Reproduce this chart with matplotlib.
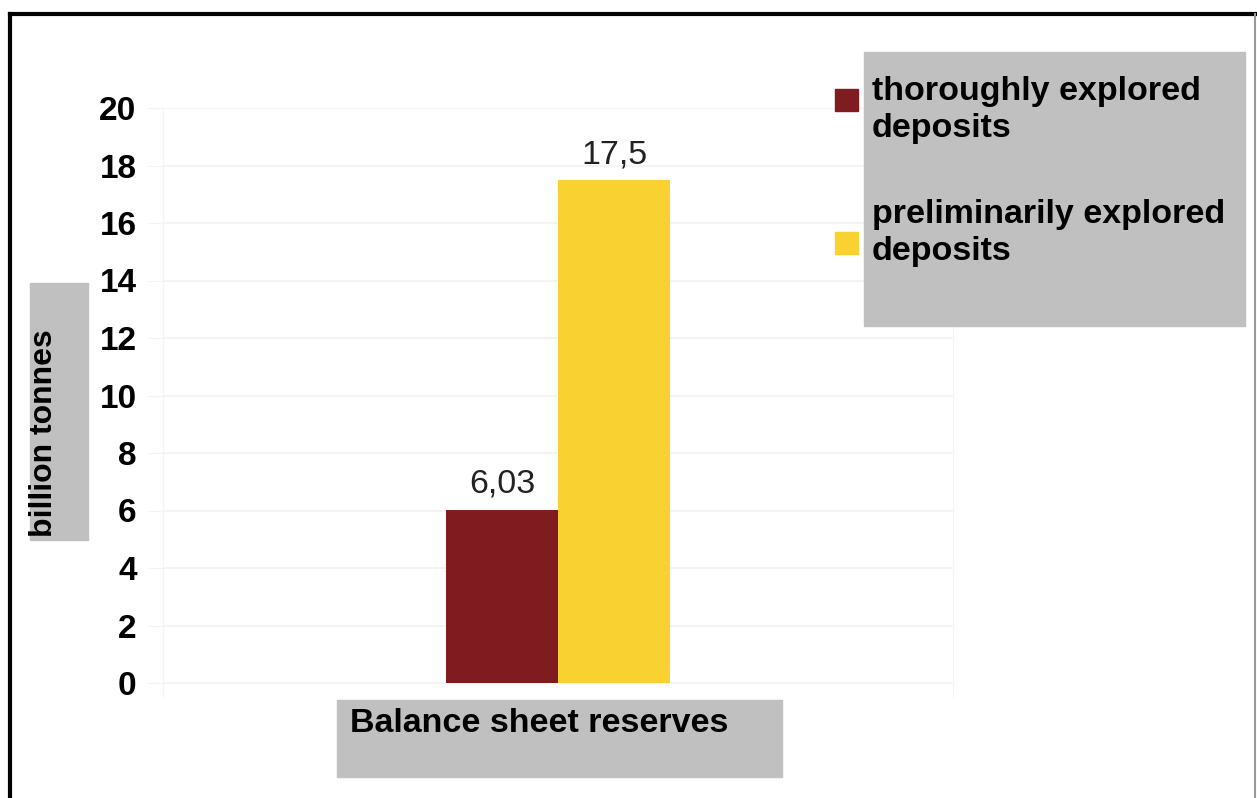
import matplotlib
matplotlib.use("Agg")
import matplotlib.pyplot as plt
from matplotlib.patches import Rectangle
from matplotlib.lines import Line2D

plt.rcParams['font.family'] = ['Liberation Sans', 'DejaVu Sans']

# Данные
category = "Balance sheet reserves"
y_label = "billion tonnes"
series_names = ["thoroughly explored\ndeposits", "preliminarily explored\ndeposits"]
series_values = [6.03, 17.5]
value_labels = ["6,03", "17,5"]
series_colors = ["#7e1c1f", "#f9d131"]
y_ticks = [0, 2, 4, 6, 8, 10, 12, 14, 16, 18, 20]

W, H = 1257, 798
fig = plt.figure(figsize=(W / 100, H / 100), dpi=100)

# область построения: 0 -> y=683 px, 20 -> y=108 px, ниже нуля ещё полделения
y_min = -0.5
px_per_unit = (683 - 108) / 20
bottom_px = 683 + (-y_min) * px_per_unit
ax = fig.add_axes([163 / W, 1 - bottom_px / H, 790 / W, (bottom_px - 108) / H])

bar_w = 0.284
offsets = [-bar_w / 2, bar_w / 2]
for off, val, lab, col in zip(offsets, series_values, value_labels, series_colors):
    ax.bar(off, val, width=bar_w, color=col, zorder=3)
    ax.annotate(lab, (off, val), xytext=(0, 7), textcoords="offset points",
                ha="center", va="bottom", fontsize=24.5, color="#222222")

ax.set_xlim(-1, 1)
ax.set_ylim(y_min, 20)
ax.set_yticks(y_ticks)
ax.set_yticklabels([str(t) for t in y_ticks], fontsize=24, fontweight="bold")
ax.set_xticks([])
ax.yaxis.grid(True, color="#f2f2f2", linewidth=1.2, zorder=0)
ax.tick_params(axis="y", length=11, color="#f2f2f2", pad=8)
for s in ["top", "bottom"]:
    ax.spines[s].set_visible(False)
for s in ["left", "right"]:
    ax.spines[s].set_color("#f4f4f4")
ax.set_facecolor("none")

# Подпись оси Y в сером прямоугольнике
fig.patches.append(Rectangle((30 / W, 1 - 540 / H), 58 / W, 257 / H,
                             transform=fig.transFigure, color="#c0c0c0", zorder=0))
fig.text(44 / W, 1 - 537 / H, y_label, rotation=90, ha="center", va="bottom",
         fontsize=23, fontweight="bold")

# Подпись оси X
fig.patches.append(Rectangle((337 / W, 1 - 777 / H), 445 / W, 77 / H,
                             transform=fig.transFigure, color="#c0c0c0", zorder=0))
fig.text(350 / W, 1 - 723 / H, category, ha="left", va="center",
         fontsize=24.5, fontweight="bold")

# Легенда
fig.patches.append(Rectangle((864 / W, 1 - 326 / H), 381 / W, 274 / H,
                             transform=fig.transFigure, color="#c0c0c0", zorder=0))
legend_y = [110, 233]
marker_y = [100, 243]
for name, col, ty, my in zip(series_names, series_colors, legend_y, marker_y):
    fig.patches.append(Rectangle((835 / W, 1 - (my + 11) / H), 23 / W, 22 / H,
                                 transform=fig.transFigure, color=col))
    fig.text(872 / W, 1 - ty / H, name, ha="left", va="center", fontsize=24.5,
             fontweight="bold", linespacing=1.25)

# Рамка
fig.add_artist(Line2D([10 / W, 10 / W], [0, 1 - 14 / H], transform=fig.transFigure,
                      color="black", linewidth=3))
fig.add_artist(Line2D([10 / W, 1255 / W], [1 - 14 / H, 1 - 14 / H],
                      transform=fig.transFigure, color="black", linewidth=3))
fig.add_artist(Line2D([1255 / W, 1255 / W], [0, 1 - 14 / H], transform=fig.transFigure,
                      color="#999999", linewidth=1.5))

fig.savefig("out.png", dpi=100)
